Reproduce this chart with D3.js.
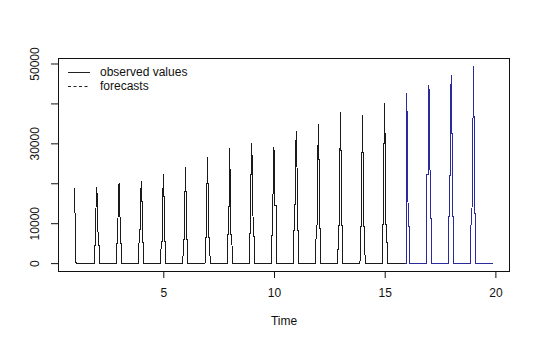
<!DOCTYPE html>
<html>
<head>
<meta charset="utf-8">
<script src="https://cdn.jsdelivr.net/npm/d3@7"></script>
<style>
  html, body { margin: 0; padding: 0; background: #fff; }
  svg { display: block; font-family: "Liberation Sans", Arial, Helvetica, sans-serif; }
</style>
</head>
<body>
<svg id="chart" width="540" height="344"></svg>
<script>
// Weekly series, 52 observations per year, with one sales burst around the turn of each year.
const weeksPerYear = 52;
const lastObservedWeek = 775;   // index of the last observed week (t = 1 + k/52)
const lastWeek = 983;           // index of the last forecast week

const seasonYears = [1, 2, 3, 4, 5, 6, 7, 8, 9, 10, 11, 12, 13, 14, 15, 16, 17, 18, 19];
// Week offsets (relative to the peak week at the start of each year) for each level
const leadWeeks  = [-5, -4, -3];
const buildWeeks = [-2, -1];
const peakWeeks  = [0];
const afterWeeks = [1, 2];
const tailWeeks  = [3, 4, 5];
// Levels per season
const leadLevel  = [0,     4500,  4800,  5150,  5400,  5900,  6500,  7200,  7400,  7000,  8200,  8550,  9300,  9100,  9600,  0,     22100, 11600, 12500];
const buildLevel = [0,     14300, 15000, 15400, 16700, 17850, 20000, 14150, 22200, 21800, 24900, 26000, 28300, 27700, 30000, 0,     22100, 35100, 24600];
const peakLevel  = [18750, 19150, 20000, 20600, 22400, 24150, 26650, 28750, 30000, 29150, 33200, 34800, 37900, 37050, 40000, 42500, 44600, 47000, 49400];
const afterLevel = [9150,  14300, 15000, 15400, 16700, 17850, 20000, 21250, 22200, 14400, 24900, 26000, 28300, 27700, 30000, 31700, 33300, 35100, 36800];
const tailLevel  = [0,     4500,  4800,  5150,  5400,  5900,  6500,  7200,  7400,  14400, 8200,  8550,  9300,  9100,  9600,  10400, 11200, 11600, 12500];

const xTicks = [5, 10, 15, 20];
const yTicks = [0, 10000, 20000, 30000, 40000, 50000];
const yLabelled = [0, 10000, 30000, 50000];
const legendLabels = ["observed values", "forecasts"];

// Build the weekly series: zero outside the bursts
const weeks = d3.range(lastWeek + 1).map(k => ({ t: 1 + k / weeksPerYear, v: 0 }));
seasonYears.forEach((yr, i) => {
  const centre = (yr - 1) * weeksPerYear;
  const put = (offsets, val) => offsets.forEach(o => {
    const k = centre + o;
    if (k >= 0 && k <= lastWeek) weeks[k].v = val;
  });
  put(leadWeeks, leadLevel[i]);
  put(buildWeeks, buildLevel[i]);
  put(peakWeeks, peakLevel[i]);
  put(afterWeeks, afterLevel[i]);
  put(tailWeeks, tailLevel[i]);
});
const observed = weeks.slice(0, lastObservedWeek + 1);
const forecast = weeks.slice(lastObservedWeek + 1);

// Plot region
const plotLeft = 58, plotRight = 510, plotTop = 58, plotBottom = 271;

const tMin = weeks[0].t, tMax = weeks[weeks.length - 1].t;
const tPad = 0.04 * (tMax - tMin);
const x = d3.scaleLinear().domain([tMin - tPad, tMax + tPad]).range([plotLeft, plotRight]);

const vMax = d3.max(weeks, d => d.v);
const vPad = 0.04 * vMax;
const y = d3.scaleLinear().domain([-vPad, vMax + vPad]).range([plotBottom, plotTop]);

const svg = d3.select("#chart");

const line = d3.line().x(d => x(d.t)).y(d => y(d.v));

svg.append("path")
  .datum(observed)
  .attr("d", line)
  .attr("fill", "none")
  .attr("stroke", "#1a1a1a")
  .attr("stroke-width", 1)
  .attr("shape-rendering", "crispEdges");

svg.append("path")
  .datum(forecast)
  .attr("d", line)
  .attr("fill", "none")
  .attr("stroke", "#2a2a9c")
  .attr("stroke-width", 1)
  .attr("shape-rendering", "crispEdges");

// Frame
svg.append("rect")
  .attr("x", plotLeft + 0.5).attr("y", plotTop + 0.5)
  .attr("width", plotRight - plotLeft - 1).attr("height", plotBottom - plotTop)
  .attr("fill", "none").attr("stroke", "#111").attr("stroke-width", 1);

// Axes
const xAxis = svg.append("g")
  .attr("transform", `translate(0,${plotBottom})`)
  .call(d3.axisBottom(x).tickValues(xTicks).tickSize(7).tickSizeOuter(0));
xAxis.select(".domain").remove();
xAxis.selectAll("line").attr("stroke", "#111");
xAxis.selectAll("text")
  .attr("y", 25.7).attr("dy", 0)
  .attr("fill", "#111").attr("font-size", 12)
  .attr("font-family", "Liberation Sans, Arial, sans-serif");

const yAxis = svg.append("g")
  .attr("transform", `translate(${plotLeft},0)`)
  .call(d3.axisLeft(y).tickValues(yTicks).tickSize(7).tickSizeOuter(0)
    .tickFormat(d => yLabelled.includes(d) ? String(d) : ""));
yAxis.select(".domain").remove();
yAxis.selectAll("line").attr("stroke", "#111");
yAxis.selectAll("text")
  .attr("transform", "rotate(-90)")
  .attr("x", 0).attr("y", -18.7).attr("dy", 0)
  .attr("text-anchor", "middle")
  .attr("fill", "#111").attr("font-size", 12)
  .attr("font-family", "Liberation Sans, Arial, sans-serif");

// Axis title
svg.append("text")
  .attr("x", (plotLeft + plotRight) / 2).attr("y", 325)
  .attr("text-anchor", "middle")
  .attr("font-size", 12).attr("fill", "#111")
  .text("Time");

// Legend
const legend = svg.append("g");
const legendRows = [
  { label: legendLabels[0], dash: null, y: 72.5, ty: 76 },
  { label: legendLabels[1], dash: "3,2.5", y: 86.5, ty: 90 }
];
legendRows.forEach(r => {
  legend.append("line")
    .attr("x1", 68).attr("x2", 90)
    .attr("y1", r.y).attr("y2", r.y)
    .attr("stroke", "#222").attr("stroke-width", 1)
    .attr("stroke-dasharray", r.dash);
  legend.append("text")
    .attr("x", 100).attr("y", r.ty)
    .attr("font-size", 12).attr("fill", "#111")
    .text(r.label);
});
</script>
</body>
</html>
